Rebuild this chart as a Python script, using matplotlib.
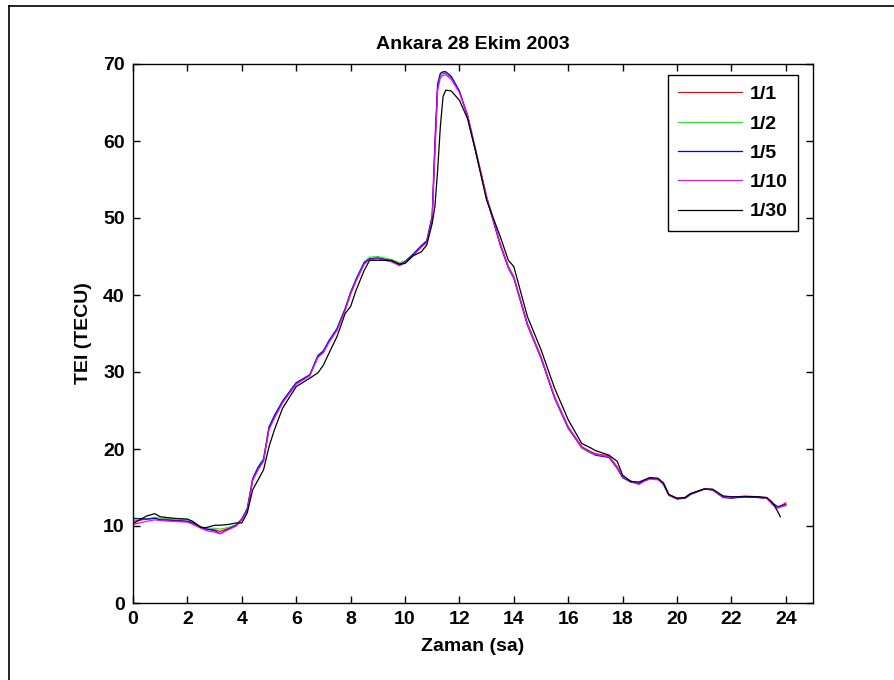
import matplotlib
matplotlib.use("Agg")
import matplotlib.pyplot as plt
from matplotlib.lines import Line2D

plt.rcParams['font.family'] = ['Liberation Sans', 'DejaVu Sans']
plt.rcParams['font.weight'] = 'bold'

# time axis (hours)
hours = [0, 0.5, 0.8, 1.0, 1.5, 2.0, 2.2, 2.5, 2.7, 3.0,
         3.2, 3.5, 3.8, 4.0, 4.2, 4.4, 4.6, 4.8, 5.0, 5.2,
         5.5, 6.0, 6.5, 6.8, 7.0, 7.2, 7.5, 7.8, 8.0, 8.2,
         8.5, 8.7, 9.0, 9.5, 9.8, 10.0, 10.3, 10.6, 10.8, 11.0,
         11.1, 11.2, 11.3, 11.4, 11.5, 11.7, 12.0, 12.3, 12.6, 13.0,
         13.5, 13.8, 14.0, 14.5, 15.0, 15.5, 16.0, 16.5, 16.8, 17.0,
         17.5, 17.8, 18.0, 18.3, 18.6, 18.8, 19.0, 19.3, 19.5, 19.7,
         20.0, 20.3, 20.5, 21.0, 21.3, 21.7, 22.0, 22.5, 23.0, 23.3,
         23.5, 23.7, 24.0]
hours_30 = hours[:-1] + [23.8]   # 1/30 series stops a bit earlier

# TEC values (TECU) for each sampling rate
tec_1 = [10.6, 10.9, 11.0, 10.9, 10.8, 10.6, 10.4, 9.9, 9.6, 9.5,
         9.3, 9.7, 10.1, 10.9, 12.1, 16.0, 17.5, 18.6, 22.7, 24.2,
         26.1, 28.5, 29.6, 32.0, 32.6, 33.9, 35.5, 38.1, 40.2, 41.9,
         44.1, 44.7, 44.8, 44.5, 44.0, 44.3, 45.2, 46.3, 46.9, 50.0,
         59.0, 67.0, 68.5, 68.8, 68.8, 68.2, 66.4, 63.4, 58.8, 52.8,
         46.7, 43.7, 42.4, 36.3, 32.0, 26.8, 22.9, 20.3, 19.7, 19.4,
         19.1, 17.7, 16.4, 15.8, 15.5, 15.9, 16.1, 16.1, 15.5, 14.0,
         13.6, 13.7, 14.2, 14.8, 14.7, 13.8, 13.7, 13.8, 13.7, 13.6,
         12.9, 12.4, 13.0]
tec_2 = [10.9, 10.9, 11.1, 11.0, 10.9, 10.8, 10.5, 9.9, 9.7, 9.7,
         9.6, 9.8, 10.2, 10.9, 12.3, 16.2, 17.7, 18.8, 22.9, 24.4,
         26.3, 28.6, 29.7, 32.2, 32.8, 34.1, 35.7, 38.3, 40.4, 42.1,
         44.3, 44.9, 45.0, 44.6, 44.2, 44.4, 45.3, 46.4, 47.1, 50.3,
         59.5, 67.2, 68.6, 68.9, 68.9, 68.3, 66.4, 63.3, 58.9, 52.7,
         46.6, 43.6, 42.3, 36.2, 31.9, 26.7, 22.8, 20.1, 19.5, 19.3,
         19.0, 17.6, 16.3, 15.8, 15.6, 15.9, 16.1, 16.1, 15.6, 14.1,
         13.6, 13.7, 14.2, 14.8, 14.7, 13.8, 13.7, 13.8, 13.7, 13.6,
         13.0, 12.5, 12.6]
tec_5 = [11.0, 10.9, 11.0, 10.8, 10.7, 10.6, 10.4, 9.8, 9.6, 9.4,
         9.0, 9.6, 10.1, 10.9, 12.2, 16.1, 17.6, 18.6, 22.8, 24.3,
         26.2, 28.6, 29.6, 32.1, 32.7, 34.0, 35.6, 38.2, 40.3, 42.0,
         44.2, 44.7, 44.8, 44.4, 43.9, 44.3, 45.3, 46.4, 47.0, 50.2,
         59.8, 67.4, 68.8, 69.0, 69.0, 68.4, 66.5, 63.2, 58.6, 52.6,
         46.5, 43.5, 42.2, 36.1, 31.8, 26.6, 22.7, 20.2, 19.6, 19.2,
         18.9, 17.5, 16.3, 15.7, 15.5, 15.9, 16.2, 16.1, 15.4, 14.0,
         13.5, 13.6, 14.1, 14.8, 14.7, 13.7, 13.6, 13.8, 13.7, 13.6,
         13.0, 12.5, 12.8]
tec_10 = [10.2, 10.6, 10.8, 10.7, 10.6, 10.5, 10.2, 9.7, 9.4, 9.2,
          9.0, 9.5, 10.0, 10.8, 12.0, 15.9, 17.3, 18.4, 22.5, 24.0,
          26.0, 28.4, 29.5, 31.9, 32.5, 33.8, 35.4, 38.0, 40.1, 41.8,
          44.0, 44.6, 44.7, 44.3, 43.8, 44.2, 45.1, 46.2, 46.8, 49.9,
          58.5, 66.6, 68.2, 68.5, 68.6, 68.0, 66.3, 63.3, 58.7, 52.7,
          46.6, 43.6, 42.3, 36.2, 31.9, 26.7, 22.8, 20.2, 19.6, 19.3,
          19.0, 17.6, 16.4, 15.8, 15.4, 15.8, 16.1, 16.0, 15.5, 14.0,
          13.5, 13.7, 14.2, 14.8, 14.7, 13.8, 13.7, 13.9, 13.8, 13.6,
          12.8, 12.3, 12.7]
tec_30 = [10.3, 11.3, 11.6, 11.2, 11.0, 10.9, 10.6, 9.8, 9.8, 10.1,
          10.1, 10.2, 10.4, 10.4, 11.7, 14.7, 16.0, 17.3, 20.3, 22.5,
          25.3, 28.1, 29.2, 29.9, 30.9, 32.4, 34.6, 37.6, 38.5, 40.6,
          43.2, 44.5, 44.5, 44.5, 44.0, 44.1, 45.1, 45.6, 46.5, 49.3,
          51.5, 56.2, 61.9, 65.8, 66.6, 66.5, 65.3, 62.9, 58.6, 52.3,
          47.6, 44.5, 43.7, 37.2, 32.9, 27.9, 23.8, 20.7, 20.2, 19.8,
          19.2, 18.4, 16.6, 15.8, 15.7, 16.0, 16.3, 16.2, 15.6, 14.1,
          13.6, 13.7, 14.2, 14.8, 14.8, 13.9, 13.8, 13.8, 13.8, 13.7,
          13.1, 11.9, 11.2]

labels = ['1/1', '1/2', '1/5', '1/10', '1/30']
colors = ['#ff0000', '#00ff00', '#0000ff', '#ff00ff', '#000000']

fig = plt.figure(figsize=(8.95, 6.8), dpi=100)
ax = fig.add_axes([133/895, 77/680, 680/895, 539/680])

series = [(hours, tec_1), (hours, tec_2), (hours, tec_5), (hours, tec_10), (hours_30, tec_30)]
for (tx, ty), lab, col in zip(series, labels, colors):
    ax.plot(tx, ty, color=col, linewidth=0.9, label=lab)

ax.set_xlim(0, 25)
ax.set_ylim(0, 70)
ax.set_xticks(range(0, 25, 2))
ax.set_yticks(range(0, 71, 10))
ax.tick_params(direction='in', length=5, width=1, top=True, right=True,
               labelsize=14, pad=6)
for s in ax.spines.values():
    s.set_linewidth(1.0)

ax.set_title("Ankara 28 Ekim 2003", fontsize=14, fontweight='bold', pad=11)
ax.set_xlabel("Zaman (sa)", fontsize=14, fontweight='bold', labelpad=7)
ax.set_ylabel("TEI (TECU)", fontsize=14, fontweight='bold', labelpad=8)

leg = ax.legend(loc='upper right', bbox_to_anchor=(798/895, 1 - 75/680),
                bbox_transform=fig.transFigure, borderaxespad=0,
                fancybox=False, framealpha=1, edgecolor='black',
                handlelength=3.3, handletextpad=0.36, labelspacing=0.6,
                borderpad=0.55, prop={'size': 14, 'weight': 'bold'})
leg.get_frame().set_linewidth(1.0)

# outer frame (only left and top edges visible in the original)
fig.add_artist(Line2D([9.5/895, 9.5/895], [0, 1 - 6/680], color='black', linewidth=1.2))
fig.add_artist(Line2D([9.5/895, 1], [1 - 6/680, 1 - 6/680], color='black', linewidth=1.2))

fig.savefig("out.png", dpi=100)
